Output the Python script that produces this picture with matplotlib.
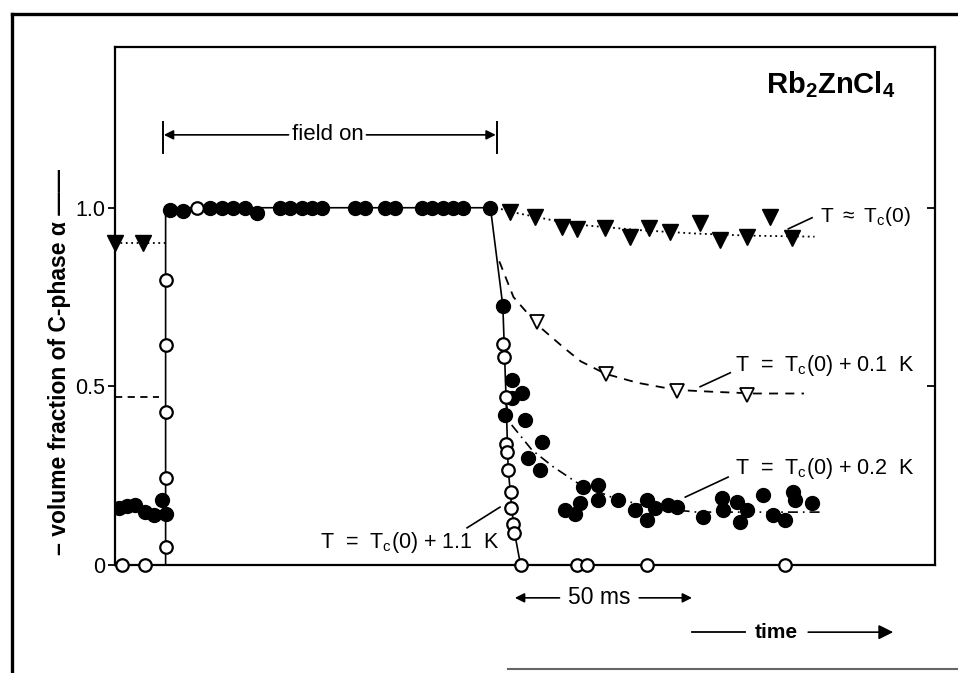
import matplotlib

matplotlib.use("Agg")
import matplotlib.pyplot as plt
from matplotlib.lines import Line2D

plt.rcParams["font.family"] = ["Liberation Sans", "DejaVu Sans"]
plt.rcParams["mathtext.fontset"] = "custom"
plt.rcParams["mathtext.rm"] = "Liberation Sans"
plt.rcParams["mathtext.bf"] = "Liberation Sans:bold"

# time in ms (field switched on at t = 0, off at t ~ 94), alpha = volume fraction
# --- T = Tc(0) + 0.2 K, filled circles
pre_t = [-12.5, -10.0, -7.9, -5.1, -2.5, -0.3, 0.8]
pre_a = [0.160, 0.165, 0.168, 0.148, 0.140, 0.182, 0.143]
on_t = [2.0, 5.6, 13.3, 16.7, 19.8, 23.2, 26.6, 33.1, 35.9, 39.3, 42.1, 44.9,
        54.2, 57.1, 62.7, 65.5, 73.2, 76.0, 79.1, 81.9, 84.7, 92.4]
on_a = [0.995, 0.99, 1.0, 1.0, 1.0, 1.0, 0.985, 1.0, 1.0, 1.0, 1.0, 1.0,
        1.0, 1.0, 1.0, 1.0, 1.0, 1.0, 1.0, 1.0, 1.0, 1.0]
off_t = [96.0, 98.6, 101.4, 98.6, 96.6, 102.3, 107.1, 103.1, 106.5, 118.6,
         122.9, 122.9, 113.6, 116.4, 117.8, 128.5, 133.3, 136.7, 136.7, 139.0,
         142.7, 145.2, 152.5, 157.9, 158.2, 162.1, 165.0, 163.0, 169.5, 172.3,
         175.7, 178.0, 178.5, 183.3]
off_a = [0.725, 0.518, 0.482, 0.468, 0.420, 0.406, 0.345, 0.300, 0.266, 0.218,
         0.224, 0.182, 0.154, 0.143, 0.174, 0.182, 0.154, 0.182, 0.126, 0.160,
         0.168, 0.162, 0.134, 0.188, 0.154, 0.176, 0.154, 0.120, 0.196, 0.140,
         0.126, 0.204, 0.182, 0.174]
fit02_t = [97.0, 98.0, 104.2, 110.2, 117.0, 127.1, 138.4, 150.8, 186.4]
fit02_a = [0.45, 0.398, 0.322, 0.275, 0.230, 0.188, 0.160, 0.148, 0.148]

# --- T = Tc(0) + 1.1 K, open circles
oc_t = [-11.6, -5.1, 0.8, 0.8, 0.8, 0.8, 0.8, 9.6,
        96.0, 96.3, 96.9, 96.9, 97.2, 97.5, 98.3, 98.3, 98.9, 99.2, 101.0,
        116.9, 119.8, 136.7, 175.7]
oc_a = [0.0, 0.0, 0.050, 0.244, 0.429, 0.616, 0.798, 1.0,
        0.619, 0.583, 0.471, 0.339, 0.317, 0.266, 0.204, 0.160, 0.115, 0.090, 0.0,
        0.0, 0.0, 0.0, 0.0]
fit11_t = [-13.5, 0.8, 0.8, 92.5, 96.0, 96.9, 97.5, 98.6, 99.5, 101.0, 218.0]
fit11_a = [0.0, 0.0, 1.0, 1.0, 0.725, 0.47, 0.27, 0.15, 0.08, 0.0, 0.0]

# --- T ~ Tc(0), filled triangles
tri_t = [-13.6, -5.6, 98.0, 105.1, 112.7, 116.9, 124.9, 131.9, 137.3, 143.2,
         151.7, 157.3, 165.0, 171.5, 177.7]
tri_a = [0.90, 0.90, 0.989, 0.975, 0.947, 0.941, 0.944, 0.919, 0.944, 0.933,
         0.958, 0.910, 0.919, 0.975, 0.916]
fit0_t = [94.0, 100.0, 110.0, 120.0, 135.0, 150.0, 165.0, 184.0]
fit0_a = [1.0, 0.985, 0.965, 0.950, 0.937, 0.928, 0.922, 0.919]

# --- T = Tc(0) + 0.1 K, open triangles
otri_t = [105.6, 125.1, 145.2, 165.0]
otri_a = [0.681, 0.535, 0.487, 0.476]
fit01_t = [95.0, 99.0, 106.0, 113.0, 118.0, 125.0, 134.0, 145.0, 155.0, 167.0, 181.0]
fit01_a = [0.85, 0.75, 0.67, 0.61, 0.57, 0.535, 0.51, 0.49, 0.485, 0.48, 0.48]

FIELD_OFF = 94.3

fig = plt.figure(figsize=(9.58, 6.73), dpi=100)
ax = fig.add_axes([0.120, 0.1605, 0.856, 0.7697])
ax.set_xlim(-13.5, 218)
ax.set_ylim(0, 1.45)
for s in ax.spines.values():
    s.set_linewidth(1.6)
ax.set_xticks([])
ax.set_yticks([0, 0.5, 1.0])
ax.set_yticklabels(["0", "0.5", "1.0"], fontsize=15.5)
ax.tick_params(axis="y", direction="out", length=5, width=1.3, pad=2)
ax.get_yticklines()[0].set_visible(False)

# inward ticks on the right-hand frame
axr = ax.twinx()
axr.set_ylim(0, 1.45)
axr.set_yticks([0.5, 1.0])
axr.set_yticklabels([])
axr.tick_params(axis="y", direction="in", length=6, width=1.3)
axr.set_xticks([])
for s in axr.spines.values():
    s.set_visible(False)

# fitted / guide lines
ax.plot(fit11_t, fit11_a, color="k", lw=1.2, zorder=2)
ax.plot([-13.5, 0.8], [0.9, 0.9], color="k", lw=1.3, ls=(0, (1, 2)), zorder=2)
ax.plot(fit0_t, fit0_a, color="k", lw=1.3, ls=(0, (1, 2)), zorder=2)
ax.plot(fit01_t, fit01_a, color="k", lw=1.3, ls=(0, (5, 4)), zorder=2)
ax.plot(fit02_t, fit02_a, color="k", lw=1.2, ls=(0, (6, 3, 1, 3)), zorder=2)
ax.plot([-13.5, -1.0], [0.47, 0.47], color="k", lw=1.3, ls=(0, (4, 3)), zorder=2)

# data points
ax.plot(pre_t + on_t + off_t, pre_a + on_a + off_a, ls="none", marker="o",
        ms=10, color="k", zorder=4)
ax.plot(oc_t, oc_a, ls="none", marker="o", ms=9, mfc="white", mec="k",
        mew=1.6, zorder=5, clip_on=False)
ax.plot(tri_t, tri_a, ls="none", marker="v", ms=11, color="k", zorder=4,
        clip_on=False)
ax.plot(otri_t, otri_a, ls="none", marker="v", ms=9.5, mfc="white", mec="k",
        mew=1.3, zorder=4)

# field on bracket
ax.plot([0, 0], [1.154, 1.241], color="k", lw=1.4)
ax.plot([FIELD_OFF, FIELD_OFF], [1.154, 1.241], color="k", lw=1.4)
arr = dict(arrowstyle="-|>", color="k", lw=1.2, mutation_scale=14,
           shrinkA=0, shrinkB=0)
ax.annotate("", xy=(0.3, 1.204), xytext=(35.5, 1.204), arrowprops=arr)
ax.annotate("", xy=(FIELD_OFF - 0.3, 1.204), xytext=(57.5, 1.204), arrowprops=arr)
ax.text(46.5, 1.204, "field on", ha="center", va="center", fontsize=16)

ax.text(206.8, 1.345, r"Rb$_\mathbf{2}$ZnCl$_\mathbf{4}$", ha="right",
        va="center", fontsize=21, fontweight="bold")

# curve labels with leader lines
ax.plot([176.6, 183.3], [0.941, 0.972], color="k", lw=1.2)
ax.text(185.6, 0.975, r"T $\approx$ T$_\mathrm{c}$(0)", ha="left",
        va="center", fontsize=15)
ax.plot([151.7, 160.2], [0.499, 0.538], color="k", lw=1.2)
ax.text(161.6, 0.558, r"T  =  T$_\mathrm{c}$(0) + 0.1  K", ha="left",
        va="center", fontsize=15.5)
ax.plot([147.5, 159.6], [0.190, 0.246], color="k", lw=1.2)
ax.text(161.6, 0.269, r"T  =  T$_\mathrm{c}$(0) + 0.2  K", ha="left",
        va="center", fontsize=15.5)
ax.plot([85.9, 95.2], [0.104, 0.162], color="k", lw=1.2)
ax.text(95.2, 0.064, r"T  =  T$_\mathrm{c}$(0) + 1.1  K", ha="right",
        va="center", fontsize=15.5)

# 50 ms scale bar and time arrow (below the axes)
ax.annotate("", xy=(99.4, -0.092), xytext=(112.0, -0.092), arrowprops=arr,
            annotation_clip=False)
ax.annotate("", xy=(149.4, -0.092), xytext=(134.5, -0.092), arrowprops=arr,
            annotation_clip=False)
ax.text(123.2, -0.092, "50 ms", ha="center", va="center", fontsize=16.5,
        clip_on=False)
ax.plot([149.4, 164.4], [-0.188, -0.188], color="k", lw=1.3, clip_on=False)
ax.annotate("", xy=(206.2, -0.188), xytext=(182.2, -0.188),
            arrowprops=dict(arr, mutation_scale=22), annotation_clip=False)
ax.text(173.3, -0.188, "time", ha="center", va="center", fontsize=15,
        fontweight="bold", clip_on=False)

fig.text(0.062, 0.462, "\u2013 volume fraction of C-phase \u03b1 \u2014\u2014",
         rotation=90, ha="center", va="center", fontsize=16.5, fontweight="bold")

# outer frame
fig.add_artist(Line2D([0.0125, 0.0125], [0.0, 0.979], color="k", lw=2.4))
fig.add_artist(Line2D([0.0125, 1.0], [0.979, 0.979], color="k", lw=2.4))
fig.add_artist(Line2D([0.53, 1.0], [0.006, 0.006], color="0.4", lw=1.5))

fig.savefig("out.png", dpi=100)
